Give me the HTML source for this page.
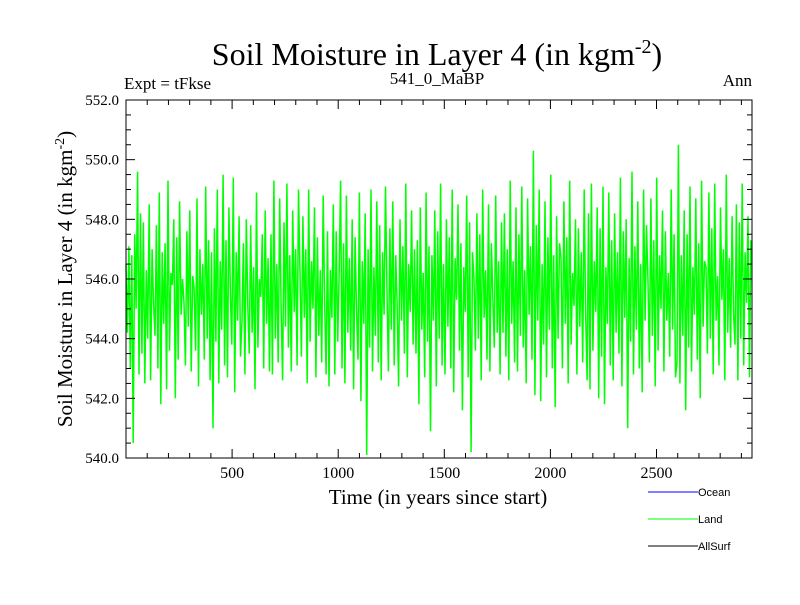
<!DOCTYPE html>
<html><head><meta charset="utf-8"><style>
body{margin:0;background:#fff}
svg text{font-family:"Liberation Serif",serif}
</style></head><body>
<svg id="c" width="800" height="600" xmlns="http://www.w3.org/2000/svg">
<text x="437" y="65" font-size="32" text-anchor="middle">Soil Moisture in Layer 4 (in kgm<tspan dy="-12" font-size="20">-2</tspan><tspan dy="12">)</tspan></text>
<text x="124" y="89" font-size="17">Expt = tFkse</text>
<text x="437" y="84" font-size="17" text-anchor="middle">541_0_MaBP</text>
<text x="752" y="86" font-size="17" text-anchor="end">Ann</text>
<g id="plot"></g>
<g id="axes"></g>
<text x="438" y="504" font-size="21" text-anchor="middle">Time (in years since start)</text>
<text transform="translate(72,279) rotate(-90)" font-size="21" text-anchor="middle">Soil Moisture in Layer 4 (in kgm<tspan dy="-8" font-size="14">-2</tspan><tspan dy="8">)</tspan></text>
<g font-size="11">
<line x1="648" y1="492" x2="698" y2="492" stroke="#0000ff"/>
<text x="698" y="496" style="font-family:'Liberation Sans',sans-serif">Ocean</text>
<line x1="648" y1="519" x2="698" y2="519" stroke="#00ff00"/>
<text x="698" y="523" style="font-family:'Liberation Sans',sans-serif">Land</text>
<line x1="648" y1="546" x2="698" y2="546" stroke="#000"/>
<text x="698" y="550" style="font-family:'Liberation Sans',sans-serif">AllSurf</text>
</g>
</svg>
<script>
const xTicks=[500,1000,1500,2000,2500];
const yTicks=[540,542,544,546,548,550,552];
const yearSpan=2945;
const land=[
546.5,544.2,547.1,543.0,546.8,540.5,547.5,545.0,549.6,542.8,548.2,543.5,547.9,542.5,546.3,544.0,548.5,542.6,547.0,545.2,
544.1,547.8,543.0,548.9,541.8,546.9,544.5,547.2,542.3,549.3,543.6,546.2,545.8,548.0,542.0,547.4,543.3,548.6,544.8,546.0,
545.2,543.1,547.6,544.4,548.3,542.9,546.1,545.7,543.6,548.7,542.4,547.0,544.8,546.5,543.3,549.1,544.0,547.3,542.6,546.9,
541.0,547.7,543.9,549.0,542.5,546.6,544.3,549.5,543.1,547.3,542.7,548.4,545.5,543.8,549.4,542.2,546.9,544.6,548.1,543.4,
544.6,547.2,542.8,548.0,545.1,543.5,547.8,544.2,546.4,542.3,548.9,543.7,546.0,545.4,547.5,543.0,548.3,544.5,546.7,542.9,
547.5,542.8,549.3,544.0,546.5,543.2,548.7,545.1,542.6,547.9,544.4,549.2,543.7,546.8,542.9,548.3,544.9,547.0,543.1,549.0,
546.2,543.4,548.1,544.7,547.0,542.5,549.0,543.9,546.6,545.0,548.4,542.7,547.4,544.1,546.3,543.2,548.8,545.3,542.8,547.6,
542.4,546.3,544.7,548.5,542.8,547.6,543.9,546.1,549.3,543.0,547.2,542.5,548.8,544.2,546.7,543.6,548.0,542.3,547.4,545.0,
543.3,548.9,541.9,546.6,544.5,548.2,540.1,547.0,543.7,549.0,542.9,546.4,544.1,548.6,543.2,547.8,542.6,546.9,544.8,549.1,
545.6,542.9,547.7,544.3,548.6,543.1,546.8,545.2,542.4,548.0,544.6,547.1,543.5,549.2,542.7,546.5,544.9,548.3,543.8,547.0,
543.5,547.3,541.8,548.4,544.3,546.2,542.7,548.9,543.9,547.1,540.9,546.8,544.6,548.3,542.4,547.6,544.0,549.2,543.1,546.5,
542.8,548.0,544.4,547.4,543.0,549.0,542.2,546.7,545.3,548.5,543.6,547.2,541.6,546.4,544.9,548.8,542.7,547.9,540.2,546.9,
546.0,543.6,548.2,544.0,547.5,542.6,549.0,544.7,546.3,543.3,548.5,542.9,547.2,545.4,543.7,548.8,544.2,546.6,542.8,547.9,
544.2,548.2,543.4,547.0,542.6,549.3,544.5,546.6,543.2,548.4,542.9,547.5,544.1,549.1,543.7,546.3,542.5,548.7,544.8,547.1,
543.3,550.3,542.1,547.8,544.6,549.0,541.9,546.5,543.8,548.6,542.7,547.4,544.3,549.5,543.0,546.8,541.7,548.1,544.0,547.2,
546.7,543.0,548.6,544.5,547.4,542.5,549.3,543.8,546.2,545.1,548.0,542.8,547.7,544.4,546.9,543.2,549.0,544.9,542.6,548.2,
542.3,549.2,543.6,546.6,544.9,548.4,542.0,547.7,543.4,549.1,541.8,546.4,544.5,548.9,543.1,547.3,542.6,548.2,544.2,546.9,
543.5,549.4,542.4,547.6,544.7,548.0,541.0,546.7,543.9,549.6,542.8,547.1,544.3,548.6,543.0,546.5,542.2,549.0,544.6,547.8,
545.9,543.2,548.7,544.1,547.3,542.4,549.4,543.6,546.8,545.0,548.3,542.9,547.6,544.6,546.2,543.4,549.0,544.3,547.5,542.7,
543.2,550.5,542.5,546.8,544.1,548.3,541.6,547.5,543.7,549.1,542.9,546.4,544.8,548.7,543.3,547.2,542.0,549.3,544.4,546.6,
546.4,543.5,548.9,544.0,547.7,542.8,549.2,544.6,546.1,543.1,548.4,545.3,547.0,542.6,549.5,544.2,546.7,543.7,548.1,544.9,
543.8,548.5,542.6,547.9,544.0,549.2,543.1,546.9,545.2,548.1,542.7,547.3
];
const X0=126,X1=752,Y0=100,Y1=458,xMax=2950,yMin=540,yMax=552;
const sx=v=>X0+(v/xMax)*(X1-X0);
const sy=v=>Y1-(v-yMin)/(yMax-yMin)*(Y1-Y0);
const NS="http://www.w3.org/2000/svg";
const mk=(t,a,p)=>{const e=document.createElementNS(NS,t);for(const k in a)e.setAttribute(k,a[k]);p.appendChild(e);return e;};
const plot=document.getElementById('plot'),axes=document.getElementById('axes');
const step=yearSpan/(land.length-1);
const pts=land.map((v,i)=>sx(i*step).toFixed(1)+','+sy(v).toFixed(1)).join(' ');
const pl=mk('polyline',{points:pts,fill:'none',stroke:'#00ff00','stroke-width':1.5},plot);


const fr=mk('rect',{x:X0,y:Y0,width:X1-X0,height:Y1-Y0,fill:'none',stroke:'#000','stroke-width':1},axes);


for(let v=100;v<xMax;v+=100){const x=sx(v),L=(v%500===0)?9:5;
mk('line',{x1:x,y1:Y1,x2:x,y2:Y1-L,stroke:'#000'},axes);mk('line',{x1:x,y1:Y0,x2:x,y2:Y0+L,stroke:'#000'},axes);}
xTicks.forEach(v=>{const t=mk('text',{x:sx(v),y:Y1+20,'font-size':16,'text-anchor':'middle'},axes);t.textContent=v;

});
for(let v=yMin;v<=yMax+0.01;v+=0.5){const y=sy(v),L=(Math.abs(v%2)<0.01)?9:5;
mk('line',{x1:X0,y1:y,x2:X0+L,y2:y,stroke:'#000'},axes);mk('line',{x1:X1,y1:y,x2:X1-L,y2:y,stroke:'#000'},axes);}
yTicks.forEach(v=>{const t=mk('text',{x:X0-7,y:sy(v)+5,'font-size':15,'text-anchor':'end'},axes);t.textContent=v.toFixed(1);

});
</script>
</body></html>
